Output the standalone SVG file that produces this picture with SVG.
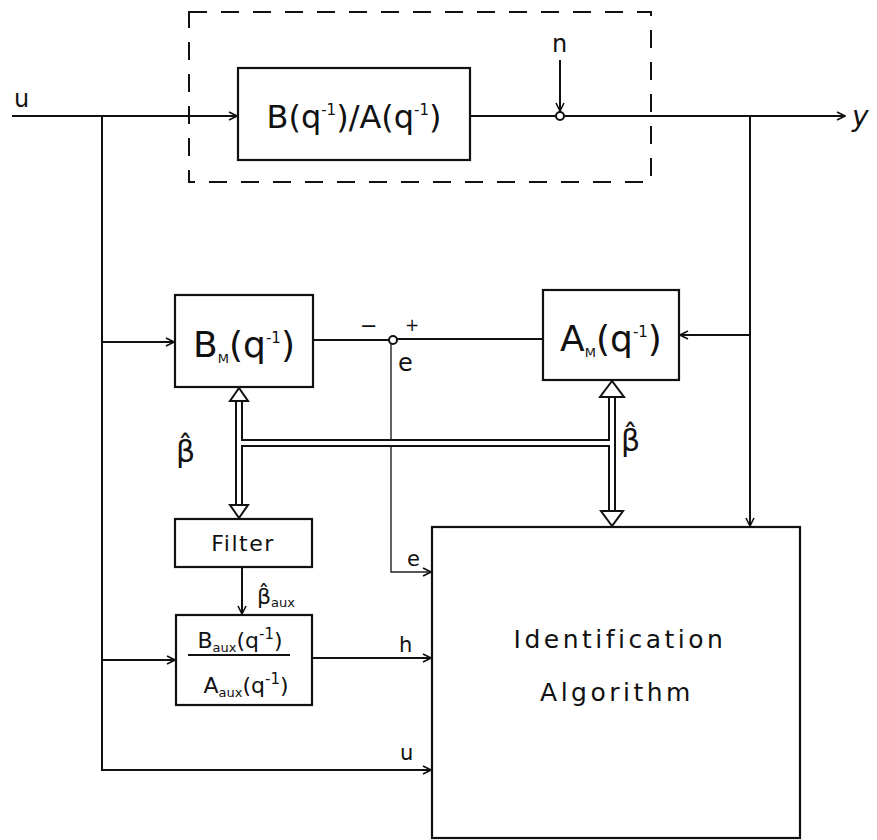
<svg xmlns="http://www.w3.org/2000/svg" width="877" height="840" viewBox="0 0 877 840">
<defs>
<style>
.box{fill:#fff;stroke:#111;stroke-width:2.2}
.ln{fill:none;stroke:#111;stroke-width:2}
.thin{fill:none;stroke:#222;stroke-width:1.4}
.dbo{fill:none;stroke:#111;stroke-width:8}
.dbi{fill:none;stroke:#fff;stroke-width:4}
.hollow{fill:#fff;stroke:#111;stroke-width:2}
text{font-family:"DejaVu Sans","Liberation Sans",sans-serif;fill:#111}
.big{font-size:32px}
.mid{font-size:22px}
.lbl{font-size:21px}
.sub{font-size:13px}
.sup{font-size:15px}
.beta{font-size:30px}
</style>
<marker id="arr" viewBox="0 0 10 10" refX="9" refY="5" markerWidth="10" markerHeight="10" markerUnits="userSpaceOnUse" orient="auto">
<path d="M1,1 L9,5 L1,9" fill="none" stroke="#111" stroke-width="1.6"/>
</marker>
</defs>
<rect width="877" height="840" fill="#fff"/>

<g id="plant-boundary">
<rect x="189" y="12" width="462" height="170" fill="none" stroke="#111" stroke-width="2" stroke-dasharray="18 14"/>
</g>

<g id="connectors">
<path class="ln" d="M12,116 H237" marker-end="url(#arr)"/>
<path class="ln" d="M470,116 H556"/>
<path class="ln" d="M564,116 H845" marker-end="url(#arr)"/>
<path class="ln" d="M560,60 V111" marker-end="url(#arr)"/>
<path class="ln" d="M102,116 V770 H431" marker-end="url(#arr)"/>
<path class="ln" d="M102,342 H174" marker-end="url(#arr)"/>
<path class="ln" d="M102,660 H175" marker-end="url(#arr)"/>
<path class="ln" d="M750,116 V526" marker-end="url(#arr)"/>
<path class="ln" d="M750,335 H680" marker-end="url(#arr)"/>
<path class="ln" d="M313,340 H389"/>
<path class="ln" d="M397,339 H543"/>
<path class="thin" d="M391,344 V572 H431" marker-end="url(#arr)"/>
<path class="ln" d="M242,567 V614" marker-end="url(#arr)"/>
<path class="ln" d="M312,658 H431" marker-end="url(#arr)"/>
<path class="dbo" d="M239,398 V506"/>
<path class="dbo" d="M239,443 H612"/>
<path class="dbo" d="M612,396 V512"/>
<path class="dbi" d="M239,396 V508"/>
<path class="dbi" d="M241,443 H612"/>
<path class="dbi" d="M612,394 V514"/>
<path class="hollow" d="M239,388 L230,401 L248,401 Z"/>
<path class="hollow" d="M239,518 L230,505 L248,505 Z"/>
<path class="hollow" d="M612,381 L600,397 L624,397 Z"/>
<path class="hollow" d="M612,526 L601,511 L623,511 Z"/>
<circle cx="560" cy="116" r="4" fill="#fff" stroke="#111" stroke-width="2"/>
<circle cx="393" cy="340" r="4" fill="#fff" stroke="#111" stroke-width="2"/>
</g>

<g id="plant">
<rect class="box" x="238" y="68" width="232" height="92"/>
<text class="big" x="354" y="128" text-anchor="middle">B(q<tspan class="sup" dy="-13">-1</tspan><tspan dy="13">)/A(q</tspan><tspan class="sup" dy="-13">-1</tspan><tspan dy="13">)</tspan></text>
</g>

<g id="BM">
<rect class="box" x="175" y="295" width="138" height="92"/>
<text x="244" y="357" font-size="36" text-anchor="middle">B<tspan class="sub" dy="6">M</tspan><tspan dy="-6">(q</tspan><tspan class="sup" dy="-14">-1</tspan><tspan dy="14">)</tspan></text>
</g>

<g id="AM">
<rect class="box" x="543" y="290" width="136" height="90"/>
<text x="611" y="351" font-size="36" text-anchor="middle">A<tspan class="sub" dy="6">M</tspan><tspan dy="-6">(q</tspan><tspan class="sup" dy="-14">-1</tspan><tspan dy="14">)</tspan></text>
</g>

<g id="filter">
<rect class="box" x="175" y="519" width="137" height="48"/>
<text class="mid" x="243" y="551" text-anchor="middle" letter-spacing="1.5">Filter</text>
</g>

<g id="aux">
<rect class="box" x="176" y="615" width="136" height="90"/>
<text class="mid" x="240" y="648" text-anchor="middle">B<tspan class="sub" dy="4">aux</tspan><tspan dy="-4">(q</tspan><tspan class="sup" dy="-9">-1</tspan><tspan dy="9">)</tspan></text>
<line x1="188" y1="655" x2="290" y2="655" stroke="#111" stroke-width="2"/>
<text class="mid" x="246" y="693" text-anchor="middle">A<tspan class="sub" dy="4">aux</tspan><tspan dy="-4">(q</tspan><tspan class="sup" dy="-9">-1</tspan><tspan dy="9">)</tspan></text>
</g>

<g id="ident">
<rect class="box" x="432" y="527" width="368" height="311"/>
<text x="620" y="648" font-size="25" text-anchor="middle" letter-spacing="3.5">Identification</text>
<text x="617" y="701" font-size="25" text-anchor="middle" letter-spacing="3.5">Algorithm</text>
</g>

<g id="labels">
<text x="14" y="107" font-size="24">u</text>
<text x="852" y="126" font-size="28" font-style="italic">y</text>
<text x="552" y="52" font-size="24">n</text>
<text class="lbl" x="360" y="333">−</text>
<text x="405" y="331" font-size="17">+</text>
<text x="398" y="371" font-size="24">e</text>
<text class="lbl" x="407" y="566">e</text>
<text class="lbl" x="399" y="652">h</text>
<text class="lbl" x="400" y="760">u</text>
<text class="beta" x="176" y="462">β̂</text>
<text class="beta" x="621" y="451">β̂</text>
<text x="257" y="604" font-size="22">β̂<tspan class="sub" dy="3">aux</tspan></text>
</g>
</svg>
